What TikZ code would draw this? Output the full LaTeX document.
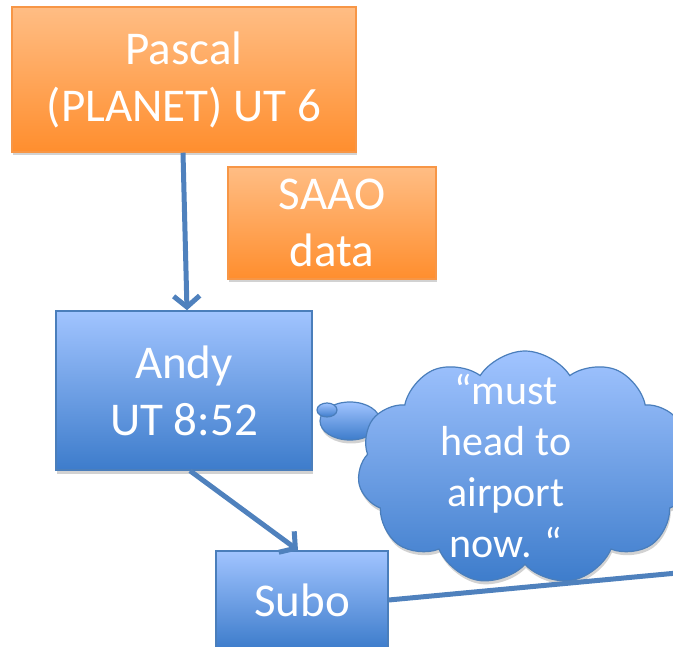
\documentclass[tikz,border=0pt]{standalone}
\usepackage{fontspec}
\setmainfont{Carlito}
\usepackage{tikz}
\usetikzlibrary{shapes.symbols,shapes.geometric,shadows,arrows.meta}

\definecolor{orangetop}{HTML}{FFBD84}
\definecolor{orangebot}{HTML}{FF8E2E}
\definecolor{orangeline}{HTML}{F79646}
\definecolor{bluetop}{HTML}{A1C4FF}
\definecolor{bluebot}{HTML}{3D7CCB}
\definecolor{blueline}{HTML}{4A7EBB}
\definecolor{linkcol}{HTML}{4F81BD}

\tikzset{
  shade/.style={drop shadow={shadow xshift=1pt,shadow yshift=-3.5pt,fill=black!35}},
  orangebox/.style={rectangle,draw=orangeline,line width=1.5pt,top color=orangetop,bottom color=orangebot,
    shade,text=white,align=center,font=\fontsize{47}{57}\selectfont,inner sep=0pt},
  bluebox/.style={rectangle,draw=blueline,line width=1.5pt,top color=bluetop,bottom color=bluebot,
    shade,text=white,align=center,font=\fontsize{47}{57}\selectfont,inner sep=0pt},
  thought/.style={cloud,cloud puffs=11,cloud puff arc=115,cloud ignores aspect,draw=blueline,line width=1.2pt,
    top color=bluetop,bottom color=bluebot,shade,inner sep=0pt},
  bubble/.style={ellipse,draw=blueline,line width=1.2pt,top color=bluetop,bottom color=bluebot,inner sep=0pt},
  link/.style={draw=linkcol,line width=5pt}
}

\begin{document}
\begin{tikzpicture}[x=1pt,y=-1pt]
\useasboundingbox (0,0) rectangle (673,647);
\clip (0,0) rectangle (673,647);

% boxes
\node[orangebox,minimum width=344pt,minimum height=145pt] (pascal) at (184,79.5) {Pascal\\(PLANET) UT 6};
\node[orangebox,minimum width=208pt,minimum height=112pt] (saao) at (332,223) {SAAO\\data};
\node[bluebox,minimum width=256pt,minimum height=159pt] (andy) at (184,390.5) {Andy\\UT 8:52};
\node[bluebox,minimum width=172pt,minimum height=98pt] (subo) at (302,600) {Subo};

% thought cloud
\node[bubble,shade,minimum width=60pt,minimum height=38pt] (bub2) at (350,421) {};
\node[bubble,minimum width=20pt,minimum height=14pt] (bub1) at (327,410) {};
\node[thought,minimum width=335pt,minimum height=234pt] (think) at (525,468) {};
\node[text=white,align=center,font=\fontsize{42}{51}\selectfont] (words) at (506,466) {“must\\head to\\airport\\now. “};

% connectors
\coordinate (away) at (720,569);
\draw[link,-{Straight Barb[length=11pt,width=26pt]}] ([xshift=-1pt]pascal.south) -- ([xshift=3pt]andy.north);
\draw[link,-{Straight Barb[length=11pt,width=26pt]}] ([xshift=6pt]andy.south) -- ([xshift=-4pt]subo.north);
\draw[link] (subo.east) -- (away);

\end{tikzpicture}
\end{document}
